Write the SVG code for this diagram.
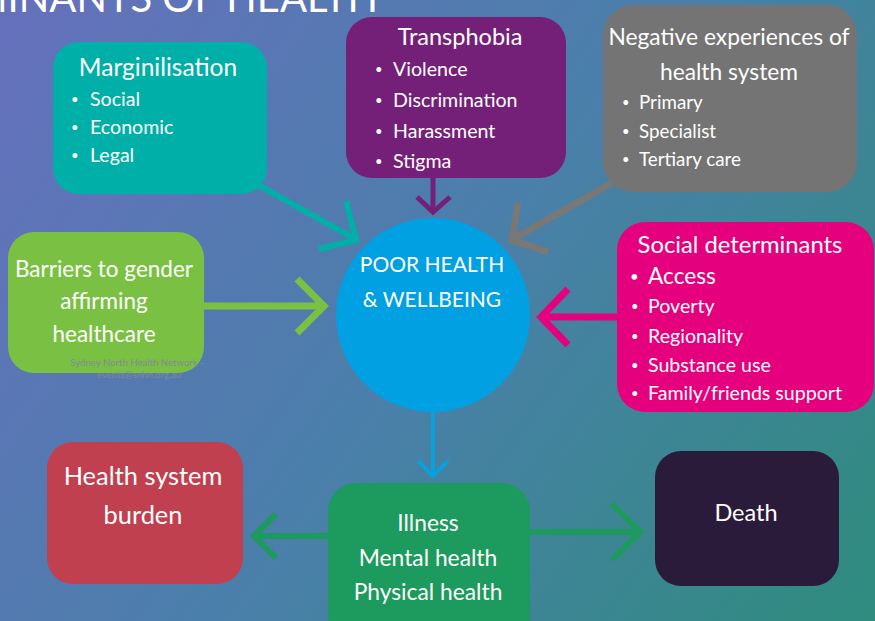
<svg xmlns="http://www.w3.org/2000/svg" width="875" height="621" viewBox="0 0 875 621">
<defs>
<linearGradient id="bg" x1="0" y1="0" x2="875" y2="621" gradientUnits="userSpaceOnUse">
<stop offset="0" stop-color="#6670bd"/>
<stop offset="0.5" stop-color="#4a7faa"/>
<stop offset="1" stop-color="#2f8c7e"/>
</linearGradient>
<style>
text{font-family:Lato,"Open Sans","Liberation Sans",sans-serif;fill:#ffffff}
.t{text-anchor:middle}
.ttl{font-size:23.5px}
.b{font-size:19.6px}
.d{font-size:13px}
.c{fill:none;stroke-linejoin:miter;stroke-linecap:butt}
.wm{font-size:9.6px;fill:#7f8a98;text-anchor:middle}
</style>
</defs>
<rect x="0" y="0" width="875" height="621" fill="url(#bg)"/>
<text x="378" y="12" font-size="40" text-anchor="end">DETERMINANTS OF HEALTH</text>

<g id="connectors">
<g class="c" stroke="#00b0a8" stroke-width="6">
<line x1="253" y1="182" x2="355" y2="239"/>
<polyline points="346,201 356,240 319,249"/>
</g>
<g class="c" stroke="#752078" stroke-width="5">
<line x1="433" y1="178" x2="433" y2="211"/>
<polyline points="417,197 433,212 450,197"/>
</g>
<g class="c" stroke="#787878" stroke-width="7">
<line x1="612" y1="183" x2="515" y2="238"/>
<polyline points="518,203 512,240 548,252"/>
</g>
<g class="c" stroke="#7ac143" stroke-width="7">
<line x1="204" y1="306" x2="322" y2="306"/>
<polyline points="297,279 324,306 297,333"/>
</g>
<g class="c" stroke="#e5007d" stroke-width="7">
<line x1="617" y1="317" x2="543" y2="317"/>
<polyline points="568,289 541,317 568,345"/>
</g>
<g class="c" stroke="#0aa0dc" stroke-width="4">
<line x1="433" y1="412" x2="433" y2="475"/>
<polyline points="418,461 433,476 448,461"/>
</g>
<g class="c" stroke="#1d9a5d" stroke-width="6">
<line x1="328" y1="536" x2="256" y2="536"/>
<polyline points="276,514 254,536 276,558"/>
<line x1="530" y1="532" x2="638" y2="532"/>
<polyline points="612,504 640,532 612,560"/>
</g>
</g>

<g id="marginalisation">
<rect x="53" y="42" width="214" height="152" rx="26" fill="#00b0a8"/>
<text class="t" x="158" y="76" font-size="24.5">Marginilisation</text>
<text class="d" x="71" y="104">•</text><text class="b" x="90" y="106">Social</text>
<text class="d" x="71" y="132">•</text><text class="b" x="90" y="134">Economic</text>
<text class="d" x="71" y="160">•</text><text class="b" x="90" y="162">Legal</text>
</g>

<g id="transphobia">
<rect x="346" y="17" width="220" height="161" rx="26" fill="#752078"/>
<text class="t ttl" x="460" y="45">Transphobia</text>
<text class="d" x="375" y="74">•</text><text class="b" x="393" y="76">Violence</text>
<text class="d" x="375" y="105">•</text><text class="b" x="393" y="107">Discrimination</text>
<text class="d" x="375" y="136">•</text><text class="b" x="393" y="138">Harassment</text>
<text class="d" x="375" y="166">•</text><text class="b" x="393" y="168">Stigma</text>
</g>

<g id="negative-experiences">
<rect x="603" y="5" width="254" height="187" rx="30" fill="#747474"/>
<text class="t" x="729" y="45" font-size="22.8">Negative experiences of</text>
<text class="t" x="729" y="80" font-size="22.8">health system</text>
<text class="d" x="622" y="107">•</text><text x="639" y="109" font-size="18.8">Primary</text>
<text class="d" x="622" y="136">•</text><text x="639" y="138" font-size="18.8">Specialist</text>
<text class="d" x="622" y="164">•</text><text x="639" y="166" font-size="18.8">Tertiary care</text>
</g>

<g id="barriers">
<rect x="8" y="232" width="196" height="141" rx="26" fill="#7ac143"/>
<g font-size="22.5">
<text class="t" x="104" y="277">Barriers to gender</text>
<text class="t" x="104" y="309">affirming</text>
<text class="t" x="104" y="342">healthcare</text>
</g>
<text class="wm" x="137" y="366">Sydney North Health Network -</text>
<text class="wm" x="139" y="378">events@snhn.org.au</text>
</g>

<g id="poor-health">
<circle cx="433" cy="315" r="97" fill="#00a0e3"/>
<text class="t" x="432" y="272" font-size="21">POOR HEALTH</text>
<text class="t" x="432" y="307" font-size="21">&amp; WELLBEING</text>
</g>

<g id="social-determinants">
<rect x="617" y="222" width="257" height="190" rx="28" fill="#e5007d"/>
<text class="t" x="740" y="253" font-size="23.8">Social determinants</text>
<text x="630" y="282" font-size="15">•</text><text x="648" y="284" font-size="22.7">Access</text>
<text class="d" x="631" y="311">•</text><text class="b" x="648" y="313">Poverty</text>
<text class="d" x="631" y="341">•</text><text class="b" x="648" y="343">Regionality</text>
<text class="d" x="631" y="370">•</text><text class="b" x="648" y="372">Substance use</text>
<text class="d" x="631" y="398">•</text><text class="b" x="648" y="400">Family/friends support</text>
</g>

<g id="health-system-burden">
<rect x="47" y="442" width="196" height="142" rx="26" fill="#c1404f"/>
<text class="t" x="143" y="485" font-size="25.4">Health system</text>
<text class="t" x="143" y="524" font-size="25.4">burden</text>
</g>

<g id="illness">
<rect x="328" y="483" width="202" height="160" rx="28" fill="#1d9a5d"/>
<g font-size="22.8">
<text class="t" x="428" y="531">Illness</text>
<text class="t" x="428" y="566">Mental health</text>
<text class="t" x="428" y="600">Physical health</text>
</g>
</g>

<g id="death">
<rect x="655" y="451" width="184" height="135" rx="26" fill="#2b1b3a"/>
<text class="t" x="746" y="521" font-size="23.5">Death</text>
</g>
</svg>
